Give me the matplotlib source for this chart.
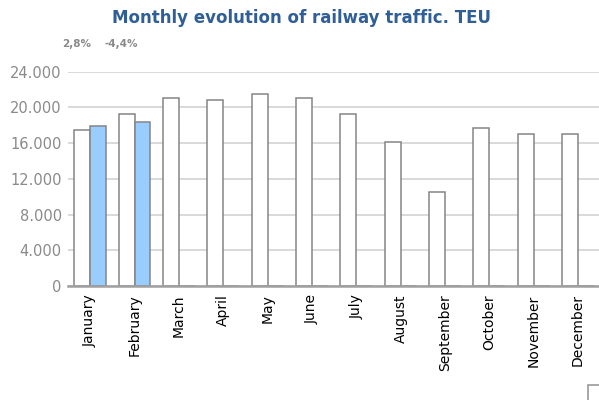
import matplotlib
matplotlib.use('Agg')
import matplotlib.pyplot as plt
from matplotlib.patches import Rectangle
from matplotlib.ticker import FuncFormatter
import numpy as np

# Monthly TEU moved by rail: previous year (all months) and current year (Jan-Feb)
months = ['January', 'February', 'March', 'April', 'May', 'June',
          'July', 'August', 'September', 'October', 'November', 'December']
teu_prev = [17450, 19250, 21050, 20830, 21470, 21020,
            19260, 16130, 10490, 17660, 17020, 17020]
teu_curr = [17940, 18400]
pct_change = ['2,8%', '-4,4%']

GREY_TXT = '#8a8a8a'
EDGE = '#858585'
BLUE = '#99ccff'
TITLE = '#2f5f96'

fig = plt.figure(figsize=(5.99, 4.0), dpi=100)
ax = fig.add_axes([68 / 599, 1 - 286 / 400, 1 - 68 / 599 + 0.002, (286 - 71.7) / 400])

x = np.arange(len(months))
w = 0.36
ax.bar(x - w / 2, teu_prev, width=w, color='white', edgecolor=EDGE, linewidth=1.1, zorder=3)
ax.bar(x[:len(teu_curr)] + w / 2, teu_curr, width=w, color=BLUE, edgecolor=EDGE,
       linewidth=1.1, zorder=3)
# empty slots for the months without current-year data
ax.bar(x[len(teu_curr):] + w / 2, [0] * (len(months) - len(teu_curr)), width=w,
       color='white', edgecolor=EDGE, linewidth=1.1, zorder=3)

ax.set_xlim(-0.5, len(months) - 0.5)
ax.set_ylim(0, 24000)
ax.set_yticks(np.arange(0, 24001, 4000))
ax.yaxis.set_major_formatter(FuncFormatter(lambda v, p: f'{int(v):,}'.replace(',', '.')))
ax.grid(axis='y', color='#d0d0d0', linewidth=1.1, zorder=0)
ax.set_axisbelow(True)

ax.set_xticks(x)
ax.set_xticklabels(months, rotation=90, fontsize=10, color='black')
ax.tick_params(axis='x', length=0, pad=6)
ax.tick_params(axis='y', length=0, pad=4.5, labelsize=10.5, labelcolor=GREY_TXT)

for side in ['top', 'right', 'left']:
    ax.spines[side].set_visible(False)
ax.spines['bottom'].set_color('#a0a0a0')
ax.spines['bottom'].set_linewidth(1.8)
ax.spines['bottom'].set_zorder(4)

# year-on-year change above the months with current data
for i, txt in enumerate(pct_change):
    ax.text(i - 0.3, 1.13, txt, transform=ax.get_xaxis_transform(), ha='center',
            va='center', fontsize=7.5, fontweight='bold', color=GREY_TXT, clip_on=False)

fig.text(301 / 599, 1 - 18 / 400, 'Monthly evolution of railway traffic. TEU',
         ha='center', va='center', fontsize=12, fontweight='bold', color=TITLE)

# legend frame peeking in at the lower right corner
fig.patches.append(Rectangle((588 / 599, -0.05), 0.05, (400 - 385) / 400 + 0.05,
                             transform=fig.transFigure, facecolor='white',
                             edgecolor='#999999', linewidth=1.2))

fig.savefig('out.png', dpi=100)
